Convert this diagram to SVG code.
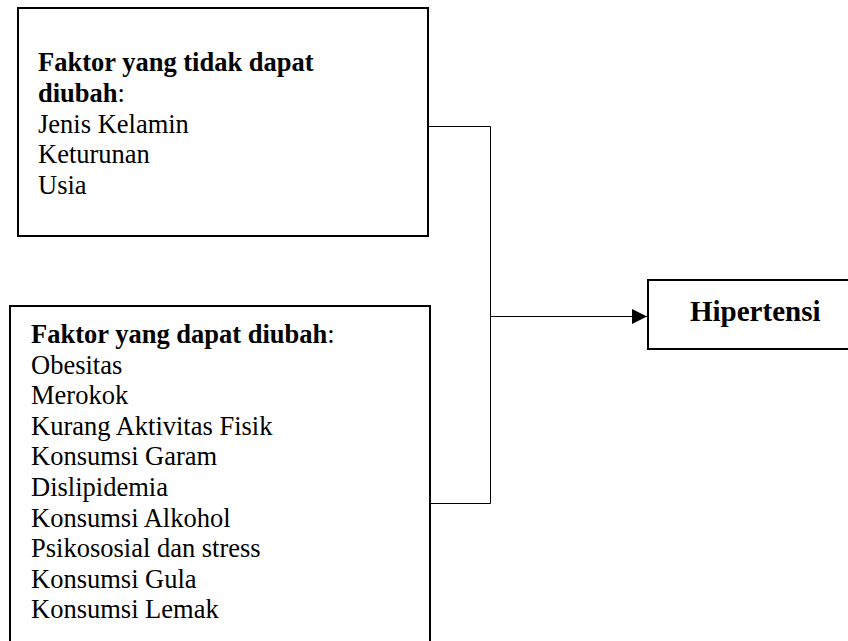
<svg xmlns="http://www.w3.org/2000/svg" width="848" height="641" viewBox="0 0 848 641">
<style>
.box{fill:#fff;stroke:#000;stroke-width:2}
.t{font-family:"Liberation Serif","Times New Roman",serif;font-size:26.5px;fill:#000}
.b{font-weight:bold}
.c{fill:none;stroke:#000;stroke-width:1}
</style>
<defs>
<marker id="arr" markerWidth="16" markerHeight="16" refX="15" refY="7.5" orient="auto" markerUnits="userSpaceOnUse">
<path d="M0,0 L15,7.5 L0,15 Z" fill="#000"/>
</marker>
</defs>
<rect width="848" height="641" fill="#fff"/>
<g id="node-tidak-dapat-diubah">
<rect class="box" x="18" y="8" width="410" height="228"/>
<text class="t"><tspan class="b" x="38" y="71">Faktor yang tidak dapat</tspan><tspan class="b" x="38" y="102">diubah</tspan><tspan>:</tspan><tspan x="38" y="132.5">Jenis Kelamin</tspan><tspan x="38" y="163">Keturunan</tspan><tspan x="38" y="193.5">Usia</tspan></text>
</g>
<g id="node-dapat-diubah">
<rect class="box" x="10" y="306" width="420" height="345"/>
<text class="t"><tspan class="b" x="31" y="343">Faktor yang dapat diubah</tspan><tspan>:</tspan><tspan x="31" y="373.5">Obesitas</tspan><tspan x="31" y="404">Merokok</tspan><tspan x="31" y="434.5">Kurang Aktivitas Fisik</tspan><tspan x="31" y="465">Konsumsi Garam</tspan><tspan x="31" y="496">Dislipidemia</tspan><tspan x="31" y="526.5">Konsumsi Alkohol</tspan><tspan x="31" y="557">Psikososial dan stress</tspan><tspan x="31" y="587.5">Konsumsi Gula</tspan><tspan x="31" y="618">Konsumsi Lemak</tspan></text>
</g>
<g id="node-hipertensi">
<rect class="box" x="648" y="280" width="210" height="69"/>
<text class="t b" x="690" y="321" style="font-size:29px">Hipertensi</text>
</g>
<g id="connectors">
<path class="c" d="M429,126.5 H490.5 V503.5 H431"/>
<path class="c" d="M490.5,316.5 H647" marker-end="url(#arr)"/>
</g>
</svg>
